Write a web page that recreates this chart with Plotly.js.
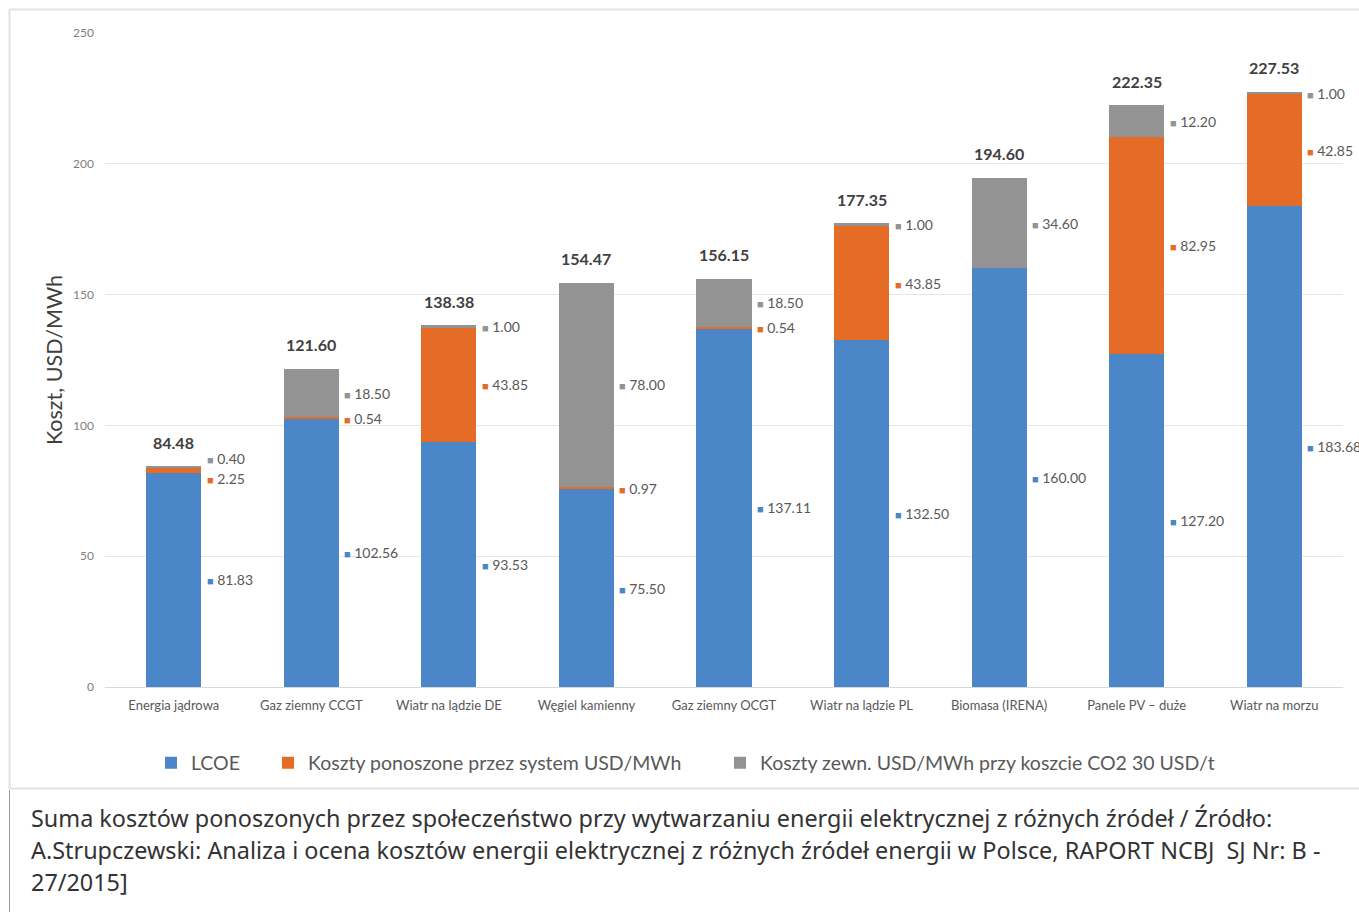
<!DOCTYPE html>
<html>
<head>
<meta charset="utf-8">
<script src="https://cdn.plot.ly/plotly-3.0.1.min.js"></script>
<style>
html,body{margin:0;padding:0;background:#ffffff;overflow:hidden;}
#chart{width:1359px;height:912px;}
</style>
</head>
<body>
<div id="chart"></div>
<script>
// ---------- data ----------
const categories = ["Energia jądrowa","Gaz ziemny CCGT","Wiatr na lądzie DE","Węgiel kamienny","Gaz ziemny OCGT","Wiatr na lądzie PL","Biomasa (IRENA)","Panele PV – duże","Wiatr na morzu"];
const lcoe = [81.83,102.56,93.53,75.50,137.11,132.50,160.00,127.20,183.68];
const systemCosts = [2.25,0.54,43.85,0.97,0.54,43.85,0,82.95,42.85];
const externalCosts = [0.40,18.50,1.00,78.00,18.50,1.00,34.60,12.20,1.00];
const seriesNames = ["LCOE","Koszty ponoszone przez system USD/MWh","Koszty zewn. USD/MWh przy koszcie CO2 30 USD/t"];
const yTicks = [0,50,100,150,200,250];
const yTitle = "Koszt, USD/MWh";
const captionLines = [
  "Suma kosztów ponoszonych przez społeczeństwo przy wytwarzaniu energii elektrycznej z różnych źródeł / Źródło:",
  "A.Strupczewski: Analiza i ocena kosztów energii elektrycznej z różnych źródeł energii w Polsce, RAPORT NCBJ&nbsp; SJ Nr: B -",
  "27/2015]"
];

// ---------- styles / geometry ----------
const colors = ["#4A86C8","#E46C26","#939393"];
const W = 1359, H = 912;
const PL = 105, PR = 1343, PT = 33, PB = 687;
const pw = PR - PL, ph = PB - PT;
const yMax = 250;
const px2x = p => (p - PL) / pw;
const py2y = p => (PB - p) / ph;
const chartFont = "Lato, 'Open Sans', sans-serif";
const series = [lcoe, systemCosts, externalCosts];

const traces = series.map((vals, k) => ({
  type: "bar",
  name: seriesNames[k],
  x: categories,
  y: vals,
  marker: {color: colors[k], line: {width: 0}},
  hoverinfo: "x+y+name",
  legend: k === 0 ? "legend" : ("legend" + (k + 1))
}));

const annotations = [];
const pxPerUnit = ph / yMax;
const minGap = 20 / pxPerUnit;
categories.forEach((c, i) => {
  const segs = [];
  let base = 0;
  series.forEach((arr, k) => {
    const v = arr[i];
    if (v > 0) segs.push({k: k, v: v, y: base + v / 2});
    base += v;
  });
  for (let pass = 0; pass < 3; pass++) {
    for (let j = 1; j < segs.length; j++) {
      if (segs[j].y - segs[j-1].y < minGap) {
        const m = (segs[j].y + segs[j-1].y) / 2;
        segs[j-1].y = m - minGap / 2;
        segs[j].y = m + minGap / 2;
      }
    }
  }
  segs.forEach(s => annotations.push({
    x: c, y: s.y, xref: "x", yref: "y",
    xanchor: "left", yanchor: "middle", xshift: 31,
    showarrow: false,
    text: '<span style="color:' + colors[s.k] + ';font-size:11px">■</span> ' + s.v.toFixed(2),
    font: {family: chartFont, size: 14, color: "#595959"}
  }));
  const total = base;
  annotations.push({
    x: c, y: total, xref: "x", yref: "y",
    xanchor: "center", yanchor: "middle", yshift: 24,
    showarrow: false,
    text: "<b>" + total.toFixed(2) + "</b>",
    font: {family: chartFont, size: 16, color: "#404040"}
  });
});

const captionY = [818, 850, 882];
captionLines.forEach((t, i) => annotations.push({
  xref: "paper", yref: "paper",
  x: px2x(29), y: py2y(captionY[i]),
  xanchor: "left", yanchor: "middle",
  showarrow: false, text: t,
  font: {family: "'Noto Sans', 'DejaVu Sans', sans-serif", size: 23.4, color: "#333333"}
}));

const shapes = [
  {type: "line", xref: "paper", yref: "paper", x0: px2x(9), x1: px2x(1362), y0: py2y(9.5), y1: py2y(9.5), line: {color: "#e2e2e2", width: 2}},
  {type: "line", xref: "paper", yref: "paper", x0: px2x(9.5), x1: px2x(9.5), y0: py2y(9), y1: py2y(789), line: {color: "#e2e2e2", width: 2}},
  {type: "line", xref: "paper", yref: "paper", x0: px2x(9), x1: px2x(1362), y0: py2y(788.5), y1: py2y(788.5), line: {color: "#e2e2e2", width: 2}},
  {type: "line", xref: "paper", yref: "paper", x0: px2x(9.5), x1: px2x(9.5), y0: py2y(790), y1: py2y(915), line: {color: "#9a9a9a", width: 1}}
];

const legendBase = {
  orientation: "h", yanchor: "middle", xanchor: "left",
  xref: "container", yref: "container",
  y: 1 - 763 / H, bgcolor: "rgba(0,0,0,0)",
  font: {family: chartFont, size: 19.5, color: "#595959"}
};
const textStarts = [191, 308, 760];

const layout = {
  width: W, height: H,
  margin: {l: PL, r: W - PR, t: PT, b: H - PB, pad: 0, autoexpand: false},
  paper_bgcolor: "#ffffff", plot_bgcolor: "#ffffff",
  barmode: "stack", bargap: 0.6,
  font: {family: chartFont, color: "#595959"},
  showlegend: true,
  legend: Object.assign({}, legendBase, {x: (textStarts[0] - 40) / W}),
  legend2: Object.assign({}, legendBase, {x: (textStarts[1] - 40) / W}),
  legend3: Object.assign({}, legendBase, {x: (textStarts[2] - 40) / W}),
  xaxis: {
    type: "category", categoryarray: categories, range: [-0.5, categories.length - 0.5],
    showgrid: false, showline: false, zeroline: false, ticks: "", ticklabelstandoff: 9,
    tickfont: {family: chartFont, size: 13, color: "#595959"},
    automargin: false
  },
  yaxis: {
    range: [0, yMax], tickvals: yTicks, ticktext: yTicks.map(String),
    showgrid: true, gridcolor: "#e6e6e6", gridwidth: 1,
    zeroline: true, zerolinecolor: "#d9d9d9", zerolinewidth: 1,
    showline: false, ticks: "", ticklabelstandoff: 10,
    tickfont: {family: chartFont, size: 12, color: "#7f7f7f"},
    title: {text: yTitle, standoff: 4, font: {family: chartFont, size: 21.5, color: "#404040"}},
    automargin: false
  },
  annotations: annotations,
  shapes: shapes
};

Plotly.newPlot("chart", traces, layout, {displayModeBar: false, responsive: false});
</script>
</body>
</html>
